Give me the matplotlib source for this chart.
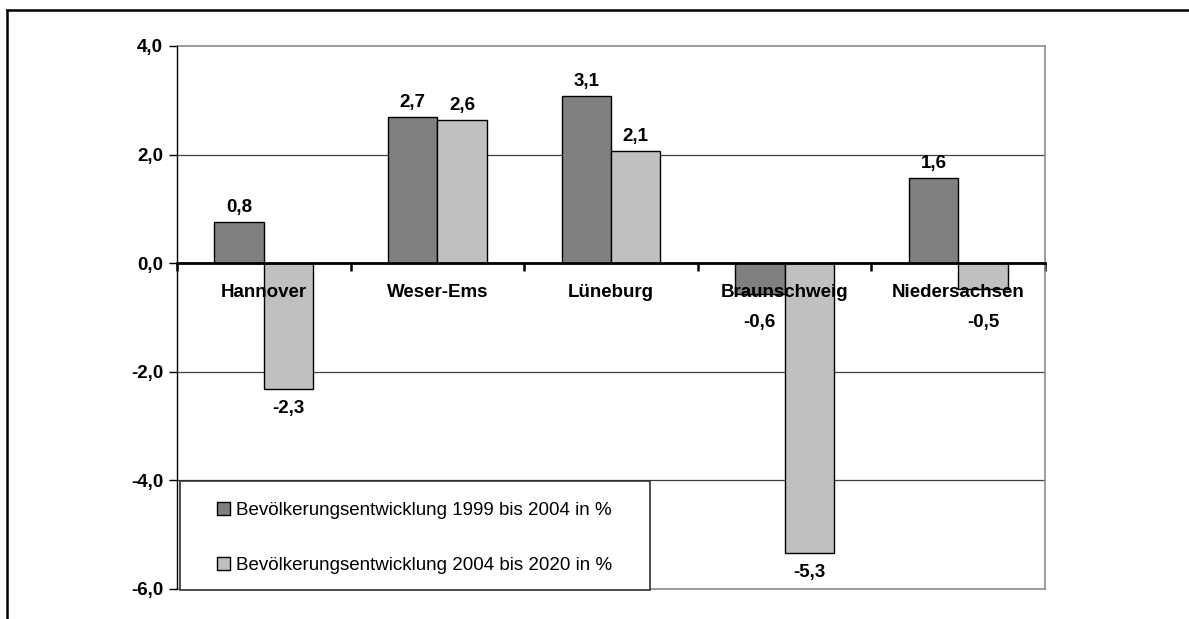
import matplotlib
matplotlib.use("Agg")
import matplotlib.pyplot as plt
from matplotlib.patches import Patch, Rectangle
from matplotlib.lines import Line2D
import numpy as np

plt.rcParams['font.family'] = ['Liberation Sans', 'DejaVu Sans']

categories = ["Hannover", "Weser-Ems", "Lüneburg", "Braunschweig", "Niedersachsen"]
series_1999_2004 = [0.76, 2.69, 3.08, -0.56, 1.56]
series_2004_2020 = [-2.31, 2.63, 2.06, -5.34, -0.48]
series_names = ["Bevölkerungsentwicklung 1999 bis 2004 in %",
                "Bevölkerungsentwicklung 2004 bis 2020 in %"]
y_ticks = [-6, -4, -2, 0, 2, 4]

colors = ["#808080", "#C0C0C0"]

W, H = 1189, 619
fig = plt.figure(figsize=(W / 100, H / 100), dpi=100)
ax = fig.add_axes([177 / W, 1 - 589 / H, (1045 - 177) / W, (589 - 46) / H])

FS = 13.5
x = np.arange(len(categories))
bw = 0.285
for k, (vals, col) in enumerate(zip([series_1999_2004, series_2004_2020], colors)):
    pos = x + (k - 0.5) * bw
    ax.bar(pos, vals, width=bw, color=col, edgecolor="black", linewidth=1.0, zorder=2)
    for p, v in zip(pos, vals):
        lab = f"{v:.1f}".replace(".", ",")
        if v >= 0:
            ax.annotate(lab, (p, v), xytext=(0, 7.5), textcoords="offset points",
                        ha="center", va="baseline", fontsize=FS, fontweight="bold", zorder=6)
        else:
            ax.annotate(lab, (p, min(v, -0.74)), xytext=(0, -8.0), textcoords="offset points",
                        ha="center", va="top", fontsize=FS, fontweight="bold", zorder=6)

for i, c in enumerate(categories):
    ax.annotate(c, (i, 0), xytext=(0, -15.0), textcoords="offset points",
                ha="center", va="top", fontsize=FS, fontweight="bold", zorder=7)

ax.set_xlim(-0.5, len(categories) - 0.5)
ax.set_ylim(y_ticks[0], y_ticks[-1])
ax.set_yticks(y_ticks)
ax.set_yticklabels([f"{t:.1f}".replace(".", ",") for t in y_ticks], fontsize=FS, fontweight="bold")
ax.tick_params(axis="y", length=6, width=1, direction="out", pad=4, color="black")

ax.set_xticks([])
ax.set_xticks(np.arange(len(categories) + 1) - 0.5, minor=True)
ax.tick_params(axis="x", which="minor", length=6, width=1.8, direction="out", color="black")
ax.spines["bottom"].set_position(("data", 0))
ax.spines["bottom"].set_linewidth(2.0)
ax.spines["bottom"].set_zorder(5)
ax.spines["left"].set_linewidth(1.0)
ax.spines["left"].set_zorder(5)
for s in ["top", "right"]:
    ax.spines[s].set_color("#8c8c8c")
    ax.spines[s].set_linewidth(1.2)

ax.set_axisbelow(True)
for t in y_ticks[1:-1]:
    if t != 0:
        ax.axhline(t, color="#404040", linewidth=0.9, zorder=0.5)
ax.axhline(y_ticks[0], color="#8c8c8c", linewidth=1.2, zorder=0.5, clip_on=False)

# legend box
lx0, lx1 = (180 - 177) / 868, (650 - 177) / 868
ly0, ly1 = (589 - 590) / 543, (589 - 481) / 543
ax.add_patch(Rectangle((lx0, ly0), lx1 - lx0, ly1 - ly0, transform=ax.transAxes,
                       facecolor="white", edgecolor="#303030", linewidth=1.2, zorder=8,
                       clip_on=False))
handles = [Patch(facecolor=c, edgecolor="black", linewidth=1.0) for c in colors]
leg = ax.legend(handles, series_names, loc="upper left",
                bbox_to_anchor=((217 - 177) / 868, (589 - 502) / 543),
                frameon=False, fontsize=FS, handlelength=0.7, handleheight=0.7,
                handletextpad=0.3, labelspacing=2.0, borderpad=0, borderaxespad=0)
leg.set_zorder(9)

# outer frame (top and left)
fig.add_artist(Line2D([7 / W, 7 / W], [0, 1 - 10 / H], color="black", linewidth=1.8,
                      transform=fig.transFigure))
fig.add_artist(Line2D([7 / W, 1], [1 - 10 / H, 1 - 10 / H], color="black", linewidth=1.8,
                      transform=fig.transFigure))

fig.savefig("out.png", dpi=100)
